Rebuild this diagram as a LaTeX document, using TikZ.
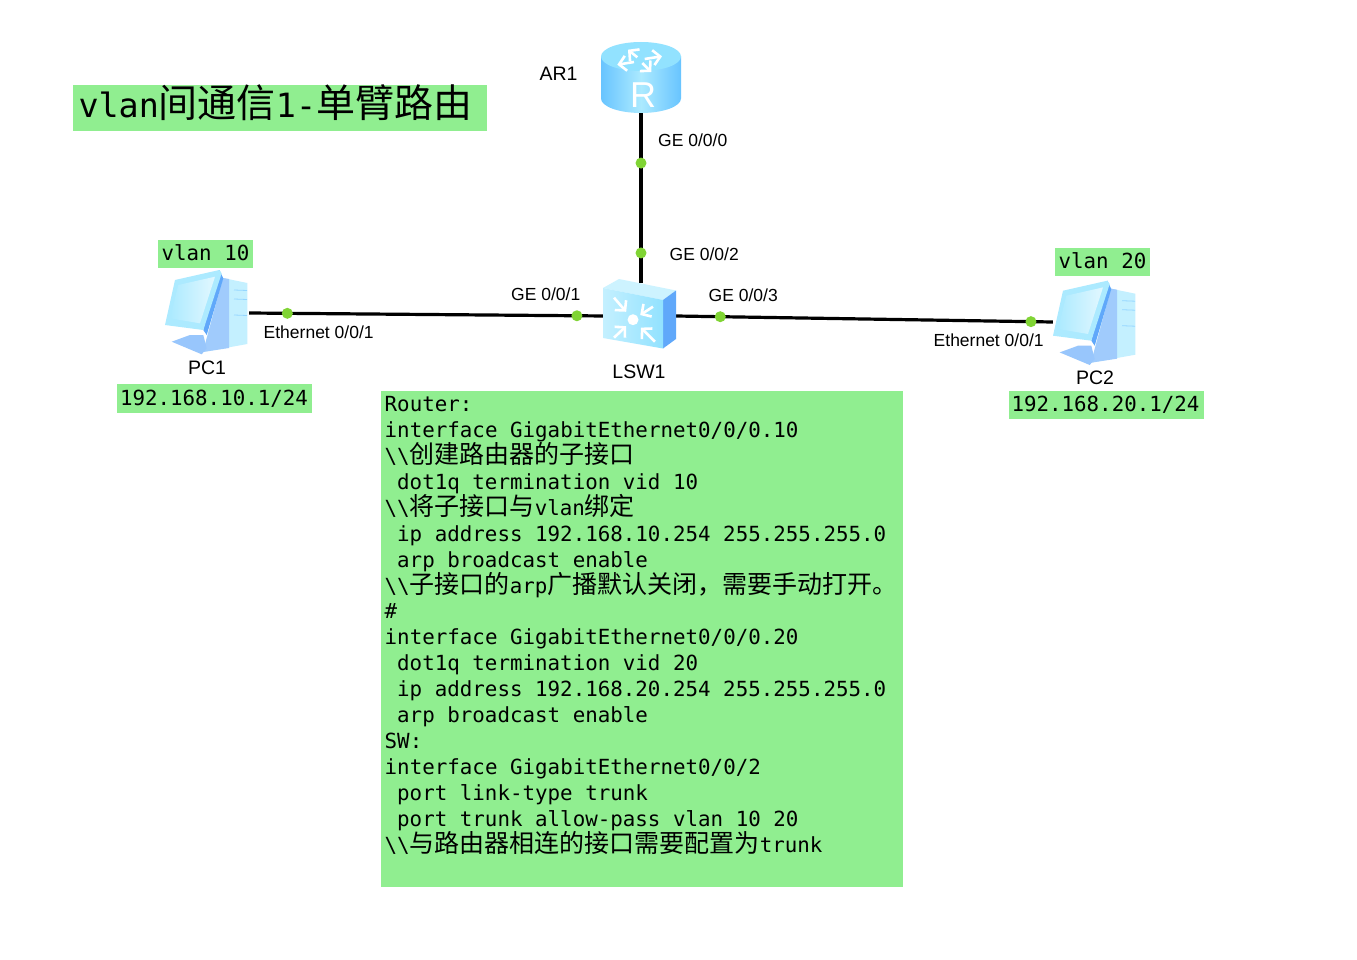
\documentclass[tikz,border=0pt]{standalone}
\usepackage{fontspec}
\setmainfont{Liberation Sans}
\setmonofont{DejaVu Sans Mono}
\newfontfamily\cjk{Noto Sans CJK SC}
\usetikzlibrary{arrows.meta}
\setlength{\lineskiplimit}{-20pt}
\definecolor{notegreen}{RGB}{144,238,144}
\definecolor{portgreen}{RGB}{128,212,52}
\definecolor{icontop}{RGB}{146,226,255}
\definecolor{iconmid}{RGB}{172,234,255}
\definecolor{iconedge}{RGB}{104,196,255}
\definecolor{icondark}{RGB}{96,168,250}
\definecolor{iconpale}{RGB}{196,240,255}
\newcommand{\zh}[2][25]{{\cjk\fontsize{#1}{26}\selectfont #2}}
\newcommand{\bs}{\textbackslash\textbackslash}
\newcommand{\ind}{\hspace*{12.5pt}}
\tikzset{
    note/.style={fill=notegreen,inner sep=0pt,text height=17pt,text depth=3.4pt,
        font=\ttfamily\fontsize{20.8}{26}\selectfont},
    devbox/.style={inner sep=0pt},
    devname/.style={inner sep=0pt,font=\fontsize{19.5}{22}\selectfont},
    portname/.style={inner sep=0pt,font=\fontsize{17.5}{20}\selectfont},
    link/.style={black,line width=3.2pt},
    port/.style={circle,fill=portgreen,inner sep=0pt,minimum size=11pt},
    barb/.style={white,line width=2.6pt,-{Straight Barb[length=7pt,width=15pt]}},
    pics/routericon/.style={code={
        \shade [left color=iconedge,right color=iconedge,middle color=iconmid]
            (-40,-20.5) -- (40,-20.5) -- (40,21.5)
            arc [start angle=0,end angle=-180,x radius=40,y radius=-14.5] -- cycle;
        \fill [icontop] (0,-20.5) ellipse [x radius=40,y radius=14.5];
        \foreach \ix/\iy/\ox/\oy in {-3.7/-19.7/-13/-27.3,3.7/-18/21/-20.7,-7/-15/-23.7/-12.3,1.3/-14/10.3/-5} {
            \draw [barb] (\ix,\iy) -- (\ox,\oy);
        }
        \node (rmark) [white,inner sep=0pt,font=\fontsize{36}{36}\selectfont] at (2,18.5) {R};
    }},
    pics/switchicon/.style={code={
        \fill [iconmid!60!white] (-38,-28) -- (-22,-37) -- (35,-25.5) -- (22,-16) -- cycle;
        \fill [icondark] (22,-16) -- (35,-25.5) -- (35,23) -- (22,32.5) -- cycle;
        \shade [left color=iconpale,right color=icontop] (-38,-28) -- (22,-16) -- (22,32.5) -- (-38,22) -- cycle;
        \fill [white] (-8,3.7) circle [radius=5.5];
        \foreach \ox/\oy in {-19/-22,20/-13,-19/18,22/22} {
            \draw [barb] (-8+\ox,3.7+\oy) -- (-8+0.36*\ox,3.7+0.36*\oy);
        }
    }},
    pics/pcicon/.style={code={
        \fill [iconpale] (16,-34) -- (40.3,-29) -- (40.3,32) -- (-4,40) -- cycle;
        \fill [icondark!60!white] (16,-34) -- (22,-33) -- (22,36) -- (-4,40) -- cycle;
        \foreach \yy in {-22,-13,3} {
            \draw [iconedge!70!white,line width=0.8pt] (27,\yy) -- (40,\yy+0.5);
        }
        \fill [icondark!65!white] (-35.3,29.7) -- (-17,23) -- (-3.7,23) -- (-0.3,36.3) -- (-5.3,42.3) -- cycle;
        \fill [icondark] (12.3,-42) -- (16.3,-33.7) -- (-0.3,23) -- (-3.7,18) -- cycle;
        \fill [iconmid] (-32,-32) -- (12.3,-42) -- (14.7,-38.7) -- (-3.7,18) -- (-42,13) -- cycle;
        \shade [left color=iconmid,right color=white!65!iconmid] (-28.7,-27) -- (8,-35.3) -- (-7,11.3) -- (-37,6.3) -- cycle;
    }},
}
\begin{document}
\begin{tikzpicture}[x=1pt,y=-1pt]
    \useasboundingbox [fill=white] (0,0) rectangle (1357,960);
    % devices
    \node (AR) [devbox,minimum width=80pt,minimum height=72pt] at (641,77) {};
    \node (LSW) [devbox,minimum width=70pt,minimum height=66pt] at (641,316) {};
    \node (PCa) [devbox,minimum width=84pt,minimum height=84pt] at (207,313) {};
    \node (PCb) [devbox,minimum width=84pt,minimum height=84pt] at (1095,322) {};
    % links
    \draw [link] (AR.south)
        to node (pAR) [port,pos=0.294] {} node (pSWa) [port,pos=0.824] {} (LSW.north);
    \draw [link] (PCa.east)
        to node (pPCa) [port,pos=0.107] {} node (pSWb) [port,pos=0.919] {} (LSW.west);
    \draw [link] (LSW.east)
        to node (pSWc) [port,pos=0.117] {} node (pPCb) [port,pos=0.942] {} (PCb.west);
    % icons
    \pic at (641,77) {routericon};
    \pic at (641,316) {switchicon};
    \pic at (207,312) {pcicon};
    \pic at (1095,322.7) {pcicon};
    % names
    \node (nAR) [devname] at (558.5,74) {AR1};
    \node (nLSW) [devname] at (639,372) {LSW1};
    \node (nPCa) [devname] at (207,368) {PC1};
    \node (nPCb) [devname] at (1095,378) {PC2};
    \node (lAR) [portname,anchor=west] at (658,140) {GE 0/0/0};
    \node (lSWa) [portname,anchor=west] at (669.5,254) {GE 0/0/2};
    \node (lSWb) [portname,anchor=west] at (511,294) {GE 0/0/1};
    \node (lSWc) [portname,anchor=west] at (708.5,295) {GE 0/0/3};
    \node (lPCa) [portname,anchor=west] at (263.5,332) {Ethernet 0/0/1};
    \node (lPCb) [portname,anchor=west] at (933.5,340) {Ethernet 0/0/1};
    % notes
    \node (title) [note,minimum width=414pt,minimum height=46pt,text width=403pt,align=flush left,
        text height=30pt,text depth=10pt,
        font=\ttfamily\fontsize{33.4}{40}\selectfont] at (280,108)
        {vlan\zh[39]{间通信}1-\zh[39]{单臂路由}};
    \node (vlanA) [note,minimum width=95pt,minimum height=28pt] at (205.5,254) {vlan 10};
    \node (vlanB) [note,minimum width=95pt,minimum height=28pt] at (1102.5,262) {vlan 20};
    \node (ipA) [note,minimum width=195pt,minimum height=29pt] at (214.5,398.5) {\hspace*{-1pt}192.168.10.1/24};
    \node (ipB) [note,minimum width=195pt,minimum height=28pt] at (1106.5,405) {\hspace*{-2pt}192.168.20.1/24};
    \node (panel) [note,minimum width=522pt,minimum height=496pt] at (642,639) {};
    \node (config) [inner sep=0pt,anchor=north west,text width=515pt,align=flush left,
        font=\ttfamily\fontsize{20.83}{25.95}\selectfont] at (384.5,396) {
        Router:\\
        interface GigabitEthernet0/0/0.10\\
        \bs\zh{创建路由器的子接口}\\
        \ind dot1q termination vid 10\\
        \bs\zh{将子接口与}vlan\zh{绑定}\\
        \ind ip address 192.168.10.254 255.255.255.0\\
        \ind arp broadcast enable\\
        \bs\zh{子接口的}arp\zh{广播默认关闭，需要手动打开。}\\
        \#\\
        interface GigabitEthernet0/0/0.20\\
        \ind dot1q termination vid 20\\
        \ind ip address 192.168.20.254 255.255.255.0\\
        \ind arp broadcast enable\\
        SW:\\
        interface GigabitEthernet0/0/2\\
        \ind port link-type trunk\\
        \ind port trunk allow-pass vlan 10 20\\
        \bs\zh{与路由器相连的接口需要配置为}trunk
    };
\end{tikzpicture}
\end{document}
